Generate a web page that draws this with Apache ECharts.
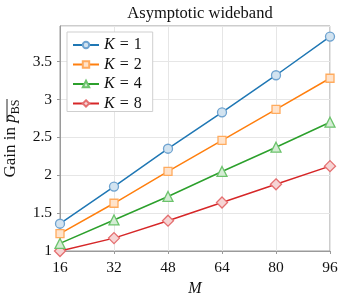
<!DOCTYPE html>
<html><head><meta charset="utf-8">
<script src="https://cdn.jsdelivr.net/npm/echarts@6/dist/echarts.min.js"></script>
<style>html,body{margin:0;padding:0;background:#fff}#c{width:343px;height:298px}</style>
</head><body><div id="c"></div>
<script>
const xValues = [16, 32, 48, 64, 80, 96];
const seriesNames = ['K = 1', 'K = 2', 'K = 4', 'K = 8'];
const k1 = [1.36, 1.85, 2.35, 2.83, 3.32, 3.83];
const k2 = [1.23, 1.63, 2.05, 2.46, 2.87, 3.28];
const k4 = [1.10, 1.41, 1.72, 2.05, 2.37, 2.70];
const k8 = [1.00, 1.17, 1.40, 1.64, 1.88, 2.12];
const yTicks = [1, 1.5, 2, 2.5, 3, 3.5];

const colors = ['#1f77b4', '#ff7f0e', '#2ca02c', '#d62728'];
const markerEdge = ['#6fa3d0', '#ffab5e', '#6cc36c', '#e56f70'];
const markerFill = ['#d2e3f0', '#ffe3cb', '#d5ecd5', '#f6d4d4'];
const symbols = ['circle', 'rect', 'triangle', 'diamond'];
const symSizes = [9, 8, 10, 11];
const allData = [k1, k2, k4, k8];
const serif = '"Liberation Serif", "DejaVu Serif", serif';
const txt = '#111';

const chart = echarts.init(document.getElementById('c'));
chart.setOption({
  animation: false,
  title: {
    text: 'Asymptotic wideband', left: 195, textAlign: 'center', top: 0,
    textStyle: { fontFamily: serif, fontWeight: 'normal', fontSize: 16.5, color: txt }
  },
  grid: { left: 60, right: 13, top: 26, bottom: 47, show: true, borderColor: '#9a9a9a', borderWidth: 1,
    containLabel: false, outerBoundsMode: 'none' },
  graphic: [{
    type: 'line', silent: true,
    shape: { x1: 7, y1: 99, x2: 7, y2: 122 },
    style: { stroke: txt, lineWidth: 0.9 }
  }],
  legend: {
    left: 67, top: 32, orient: 'vertical', itemGap: 3.5,
    itemWidth: 26, itemHeight: 8,
    backgroundColor: '#fff', borderColor: '#cfcfcf', borderWidth: 1, borderRadius: 0,
    padding: [5, 11, 0, 5],
    data: seriesNames,
    formatter: n => '{i|K}{e|=}{n|' + n.split('= ')[1] + '}',
    textStyle: { fontFamily: serif, fontSize: 16, color: txt, lineHeight: 14,
      rich: {
        i: { fontFamily: serif, fontStyle: 'italic', fontSize: 16, color: txt, lineHeight: 14 },
        e: { fontFamily: serif, fontSize: 16, color: txt, padding: [0, 5, 0, 5], lineHeight: 14 },
        n: { fontFamily: serif, fontSize: 16, color: txt, lineHeight: 14 }
      } }
  },
  xAxis: {
    type: 'value', min: 16, max: 96, interval: 16,
    name: 'M', nameLocation: 'middle', nameGap: 28,
    nameTextStyle: { fontFamily: serif, fontStyle: 'italic', fontSize: 16, color: txt },
    axisLine: { show: true, lineStyle: { color: '#9a9a9a' } },
    axisTick: { show: true, length: 3, lineStyle: { color: '#9a9a9a' } },
    axisLabel: { fontFamily: serif, fontSize: 15.5, color: txt, margin: 9 },
    splitLine: { show: true, lineStyle: { color: '#e6e6e6' } }
  },
  yAxis: {
    type: 'value', min: 1, max: 3.97, interval: 0.5,
    name: '{a|Gain in }{p|p}{s|BS}', nameLocation: 'middle', nameGap: 27, nameRotate: 90,
    nameTextStyle: { fontFamily: serif, fontSize: 17, color: txt,
      rich: {
        a: { fontFamily: serif, fontSize: 17, color: txt },
        p: { fontFamily: serif, fontStyle: 'italic', fontSize: 17, color: txt },
        s: { fontFamily: serif, fontSize: 12, color: txt, verticalAlign: 'bottom', padding: [0,0,-3,0] }
      } },
    axisLine: { show: true, lineStyle: { color: '#9a9a9a' } },
    axisTick: { show: true, length: 3, lineStyle: { color: '#9a9a9a' } },
    axisLabel: { fontFamily: serif, fontSize: 15.5, color: txt, margin: 8, showMaxLabel: false,
      formatter: v => yTicks.indexOf(v) >= 0 ? String(v) : '' },
    splitLine: { show: true, lineStyle: { color: '#e6e6e6' } }
  },
  series: allData.map((d, i) => ({
    name: seriesNames[i], type: 'line',
    data: xValues.map((x, j) => [x, d[j]]),
    symbol: symbols[i], symbolSize: symSizes[i], showSymbol: true,
    lineStyle: { color: colors[i], width: 1.5 },
    itemStyle: { color: markerFill[i], borderColor: markerEdge[i], borderWidth: 1.3 },
    z: 10 - i
  }))
});
</script></body></html>
